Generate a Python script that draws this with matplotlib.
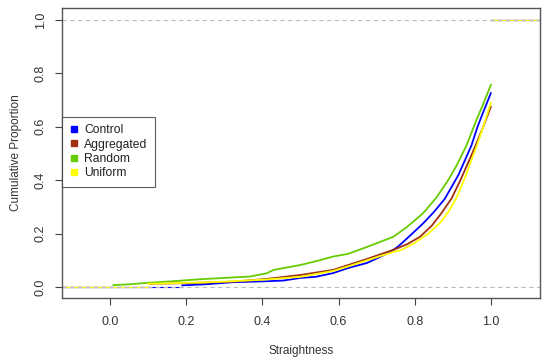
import matplotlib
matplotlib.use('Agg')
import matplotlib.pyplot as plt
from matplotlib.lines import Line2D

plt.rcParams['font.family'] = ['Liberation Sans', 'DejaVu Sans']

groups = ['Control', 'Aggregated', 'Random', 'Uniform']
group_colors = ['#0000FF', '#A0300F', '#66CC00', '#FFFF00']

control_x = [0.19, 0.25, 0.324, 0.40, 0.455, 0.50, 0.54, 0.586, 0.625, 0.675, 0.72, 0.744,
             0.756, 0.79, 0.822, 0.85, 0.879, 0.915, 0.949, 0.965, 0.98, 1.0]
control_y = [0.006, 0.01, 0.018, 0.021, 0.024, 0.034, 0.038, 0.052, 0.071, 0.09, 0.12, 0.139,
             0.151, 0.195, 0.238, 0.28, 0.33, 0.42, 0.53, 0.60, 0.655, 0.726]

aggregated_x = [0.105, 0.19, 0.324, 0.411, 0.50, 0.586, 0.625, 0.675, 0.744, 0.78, 0.814,
                0.845, 0.870, 0.897, 0.92, 0.945, 0.96, 0.98, 1.0]
aggregated_y = [0.012, 0.014, 0.02, 0.03, 0.045, 0.064, 0.082, 0.105, 0.139, 0.16, 0.188,
                0.23, 0.276, 0.332, 0.40, 0.48, 0.53, 0.60, 0.675]

random_x = [0.009, 0.05, 0.105, 0.17, 0.236, 0.30, 0.367, 0.411, 0.43, 0.499, 0.545, 0.586,
            0.625, 0.675, 0.744, 0.78, 0.822, 0.857, 0.888, 0.91, 0.936, 0.962, 0.98, 1.0]
random_y = [0.007, 0.01, 0.016, 0.022, 0.029, 0.034, 0.039, 0.051, 0.064, 0.082, 0.098, 0.114,
            0.124, 0.15, 0.188, 0.225, 0.276, 0.335, 0.40, 0.455, 0.53, 0.625, 0.685, 0.757]

uniform_x = [0.10, 0.19, 0.30, 0.411, 0.50, 0.586, 0.625, 0.675, 0.744, 0.766, 0.80, 0.836,
             0.87, 0.89, 0.91, 0.935, 0.962, 0.98, 1.0]
uniform_y = [0.012, 0.015, 0.02, 0.028, 0.038, 0.06, 0.077, 0.10, 0.131, 0.139, 0.165, 0.20,
             0.245, 0.285, 0.335, 0.42, 0.525, 0.60, 0.69]

series_x = [control_x, aggregated_x, random_x, uniform_x]
series_y = [control_y, aggregated_y, random_y, uniform_y]

x_ticks = [0.0, 0.2, 0.4, 0.6, 0.8, 1.0]
y_ticks = [0.0, 0.2, 0.4, 0.6, 0.8, 1.0]
xmin, xmax = -0.126, 1.129

fig = plt.figure(figsize=(5.5, 3.62), dpi=100)
ax = fig.add_axes([0.1127, 0.177, 0.8691, 0.801])

# ecdf curves, with the flat tails at 0 (left) and 1 (right)
for xs, ys, c in zip(series_x, series_y, group_colors):
    ax.plot([xmin, xs[0]], [0, 0], color=c, lw=0.8)
    ax.plot(xs, ys, color=c, lw=1.3)
    ax.plot([xs[-1], xmax], [1, 1], color=c, lw=0.8)

ax.axhline(0, color='#BBBBBB', lw=0.8, ls=(0, (4, 3)))
ax.axhline(1, color='#BBBBBB', lw=0.8, ls=(0, (4, 3)))

ax.set_xlim(xmin, xmax)
ax.set_ylim(-0.041, 1.045)
ax.set_xticks(x_ticks)
ax.set_xticklabels([f'{v:.1f}' for v in x_ticks])
ax.set_yticks(y_ticks)
ax.set_yticklabels([f'{v:.1f}' for v in y_ticks], rotation=90, va='center')
ax.tick_params(axis='both', labelsize=9, color='#444444', labelcolor='#333333',
               length=5, width=0.8, direction='out')
ax.tick_params(axis='x', pad=8)
ax.tick_params(axis='y', pad=6)
for s in ax.spines.values():
    s.set_color('#555555')
    s.set_linewidth(1.0)

ax.set_xlabel('Straightness', fontsize=8.5, color='#333333', labelpad=12)
ax.set_ylabel('Cumulative Proportion', fontsize=8.5, color='#333333', labelpad=9)

handles = [Line2D([], [], ls='none', marker='s', markersize=4, color=c) for c in group_colors]
leg = ax.legend(handles, groups, loc='upper left', bbox_to_anchor=(0, 0.624),
                borderaxespad=0, fancybox=False, fontsize=8.7, handlelength=0.8,
                handletextpad=0.45, labelspacing=0.2, borderpad=0.6)
leg.get_frame().set_edgecolor('#333333')
leg.get_frame().set_linewidth(0.8)
for t in leg.get_texts():
    t.set_color('#222222')

fig.savefig('out.png', dpi=100)
